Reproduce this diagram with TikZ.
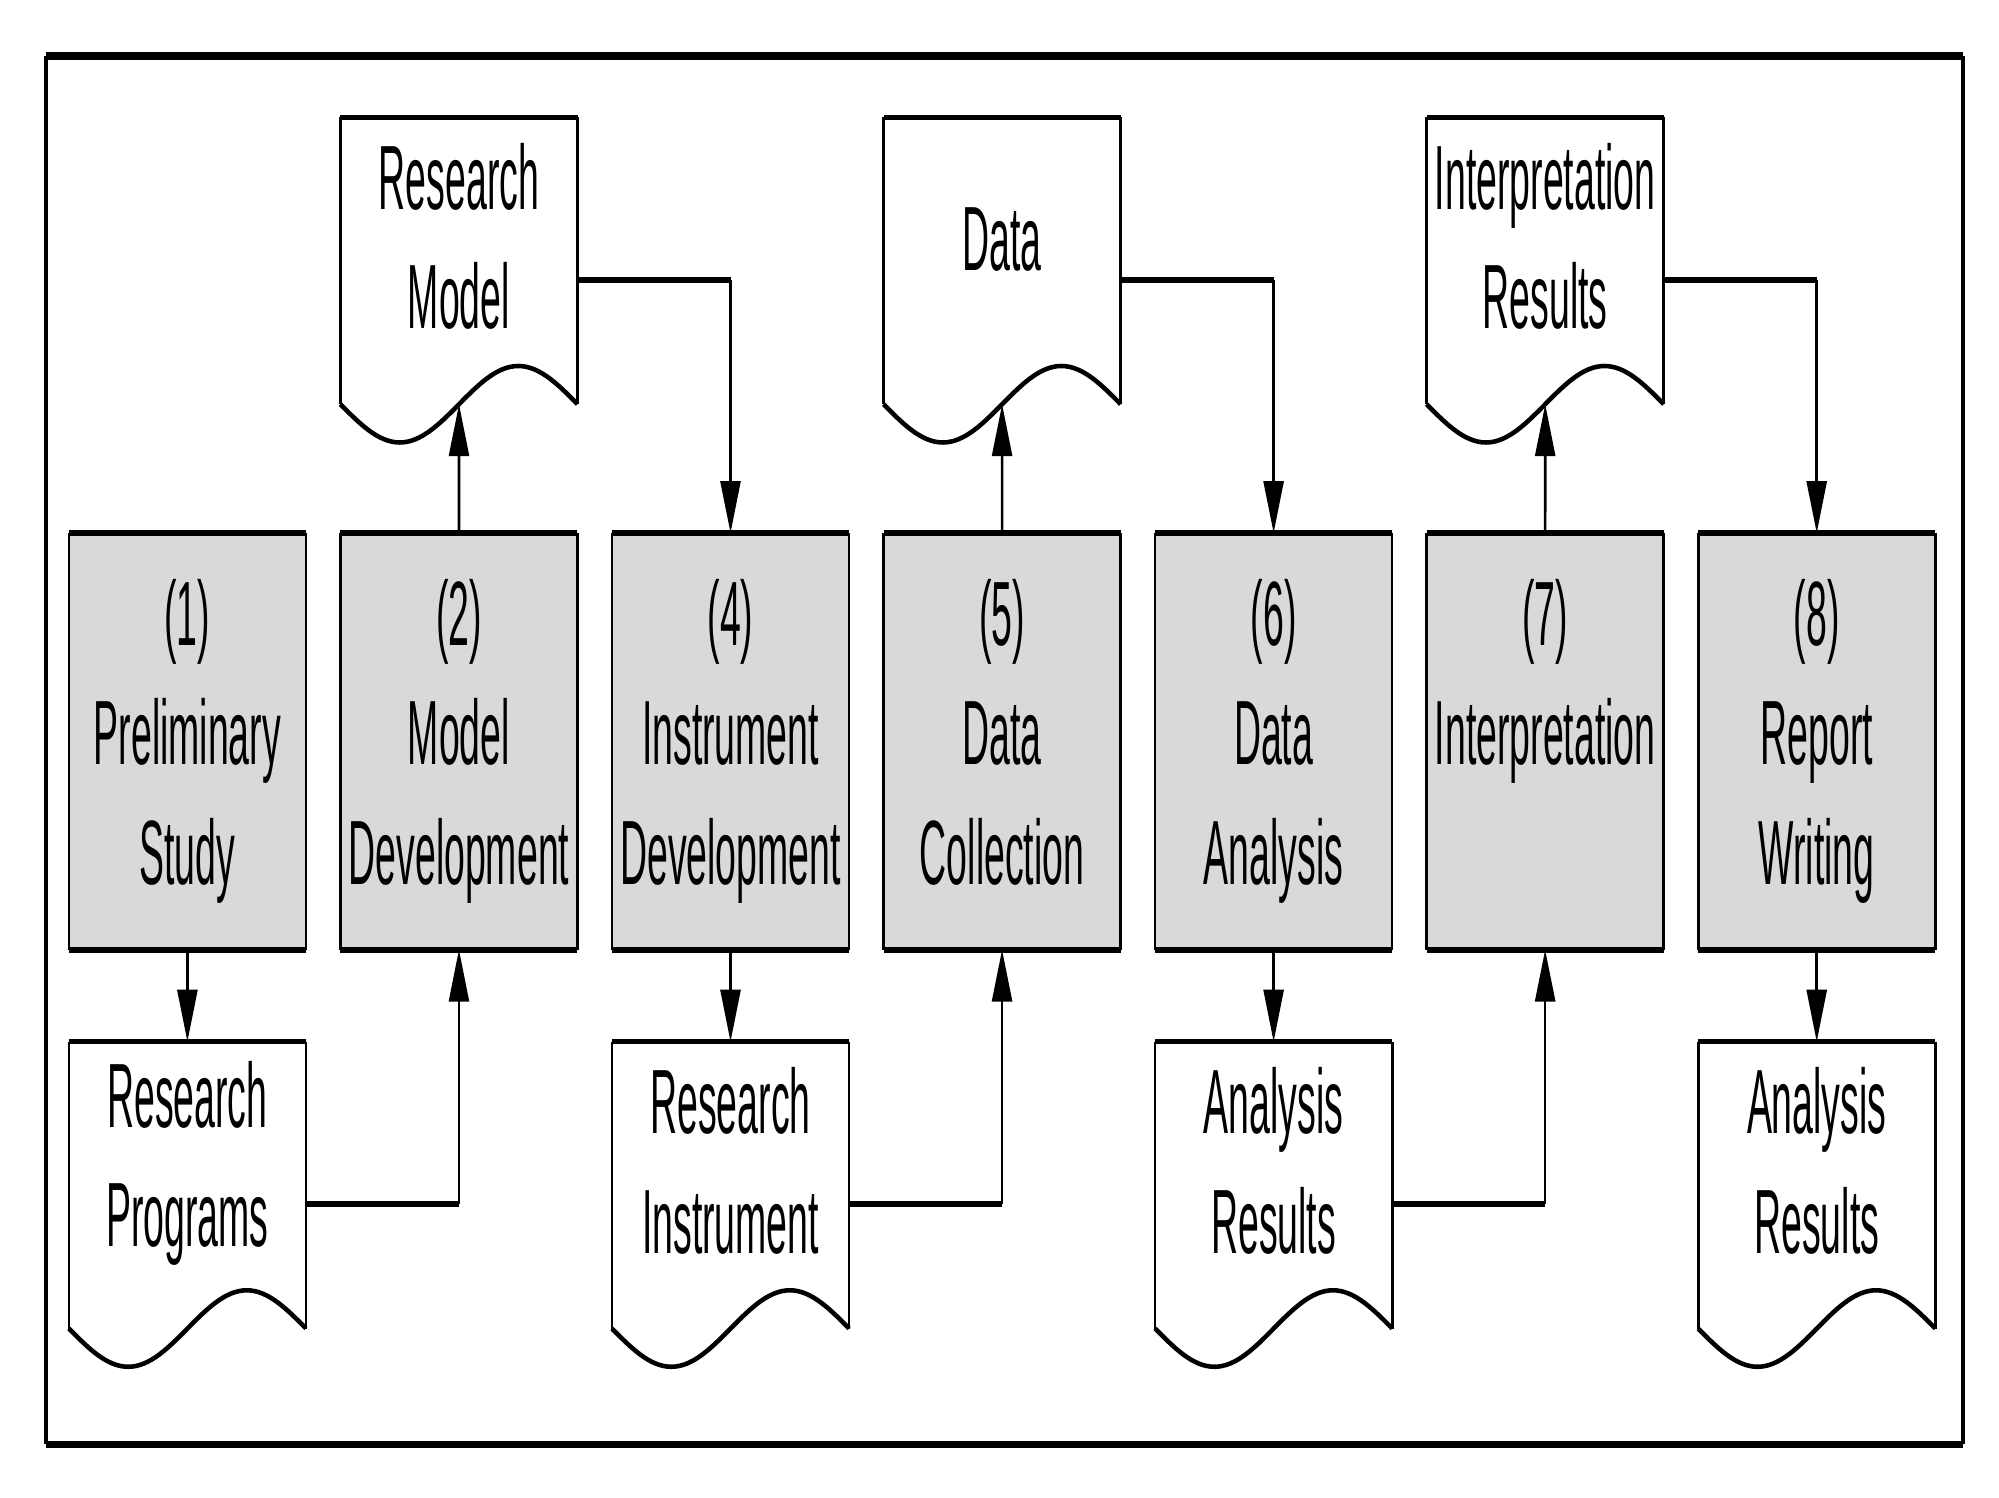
\documentclass[tikz,border=0pt]{standalone}
\usepackage{fontspec}
\newfontfamily\narrowsans{Liberation Sans}[FakeStretch=0.41]
\usetikzlibrary{arrows.meta,calc}
\definecolor{boxgray}{HTML}{D9D9D9}
\newcommand\procframe[1]{%
  \draw[hline] (#1.north west) -- (#1.north east) (#1.south west) -- (#1.south east);
  \draw[vline] (#1.north west) -- (#1.south west) (#1.north east) -- (#1.south east);}
\newcommand\docshape[1]{%
  \begin{scope}[shift={(#1.north west)}]
    \draw[hline] (0,0) -- (186,0);
    \draw[vline] (0,0) -- (0,225);
    \draw[vline] (186,0) -- (186,225);
    \draw[wave] plot[domain=0:1,samples=61] ({186*\x},{225+30*sin(360*\x)});
    \coordinate (#1w) at (93,225);
  \end{scope}}
\begin{document}
\begin{tikzpicture}[x=0.012749cm,y=-0.012749cm,
  vline/.style={line width=0.75pt,black},
  hline/.style={line width=1.6pt,black},
  wave/.style={line width=1.3pt,black},
  arr/.style={-{Triangle[length=5.2mm,width=2mm]}},
  txt/.style={font=\narrowsans\fontsize{26}{34}\selectfont,align=center,text=black,inner sep=0pt},
  proc/.style={txt,rectangle,fill=boxgray,minimum width=2.3713cm,minimum height=4.169cm,outer sep=0pt},
  doc/.style={rectangle,minimum width=2.3713cm,minimum height=3.251cm,inner sep=0pt,outer sep=0pt},
  doctext/.style={txt}]
\useasboundingbox (0,0) rectangle (1568,1175);
% frame
\draw[hline,line width=2.2pt] (36,44) -- (1540,44) (36,1133) -- (1540,1133);
\draw[vline,line width=1.1pt] (36,44) -- (36,1133) (1540,44) -- (1540,1133);
% process boxes
\node[proc] (p1) at (147,581.5) {(1)\\Preliminary\\Study\vphantom{y}};
\node[proc] (p2) at (360,581.5) {(2)\\Model\\Development\vphantom{y}};
\node[proc] (p4) at (573,581.5) {(4)\\Instrument\\Development\vphantom{y}};
\node[proc] (p5) at (786,581.5) {(5)\\Data\\Collection\vphantom{y}};
\node[proc] (p6) at (999,581.5) {(6)\\Data\\Analysis\vphantom{y}};
\node[proc] (p7) at (1212,581.5) {(7)\\Interpretation\\\vphantom{Sy}};
\node[proc] (p8) at (1425,581.5) {(8)\\Report\\Writing\vphantom{y}};
\foreach \n in {p1,p2,p4,p5,p6,p7,p8} {\procframe{\n}}
% documents
\node[doc] (rm) at (360,219.5) {};
\node[doc] (dt) at (786,219.5) {};
\node[doc] (ir) at (1212,219.5) {};
\node[doc] (rp) at (147,944.5) {};
\node[doc] (ri) at (573,944.5) {};
\node[doc] (ar) at (999,944.5) {};
\node[doc] (ars) at (1425,944.5) {};
\docshape{rm}\docshape{dt}\docshape{ir}\docshape{rp}\docshape{ri}\docshape{ar}\docshape{ars}
\node[doctext] (rmt) at ($(rm.center)+(0,-34)$) {Research\\Model};
\node[doctext] (dtt) at ($(dt.center)+(0,-32)$) {Data};
\node[doctext] (irt) at ($(ir.center)+(0,-34)$) {Interpretation\\Results};
\node[doctext] (rpt) at ($(rp.center)+(0,-32)$) {Research\\Programs};
\node[doctext] (rit) at ($(ri.center)+(0,-34)$) {Research\\Instrument};
\node[doctext] (art) at ($(ar.center)+(0,-34)$) {Analysis\\Results};
\node[doctext] (arst) at ($(ars.center)+(0,-34)$) {Analysis\\Results};
% connectors
\draw[vline,arr] (p1.south) -- (rp.north);
\coordinate (c1) at (rp.east -| p2.south);
\draw[hline] (rp.east) -- (c1);
\draw[vline,arr] (c1) -- (p2.south);
\draw[vline,arr] (p2.north) -- (rmw);
\coordinate (c2) at (rm.east -| p4.north);
\draw[hline] (rm.east) -- (c2);
\draw[vline,arr] (c2) -- (p4.north);
\draw[vline,arr] (p4.south) -- (ri.north);
\coordinate (c3) at (ri.east -| p5.south);
\draw[hline] (ri.east) -- (c3);
\draw[vline,arr] (c3) -- (p5.south);
\draw[vline,arr] (p5.north) -- (dtw);
\coordinate (c4) at (dt.east -| p6.north);
\draw[hline] (dt.east) -- (c4);
\draw[vline,arr] (c4) -- (p6.north);
\draw[vline,arr] (p6.south) -- (ar.north);
\coordinate (c5) at (ar.east -| p7.south);
\draw[hline] (ar.east) -- (c5);
\draw[vline,arr] (c5) -- (p7.south);
\draw[vline,arr] (p7.north) -- (irw);
\coordinate (c6) at (ir.east -| p8.north);
\draw[hline] (ir.east) -- (c6);
\draw[vline,arr] (c6) -- (p8.north);
\draw[vline,arr] (p8.south) -- (ars.north);
\end{tikzpicture}
\end{document}
